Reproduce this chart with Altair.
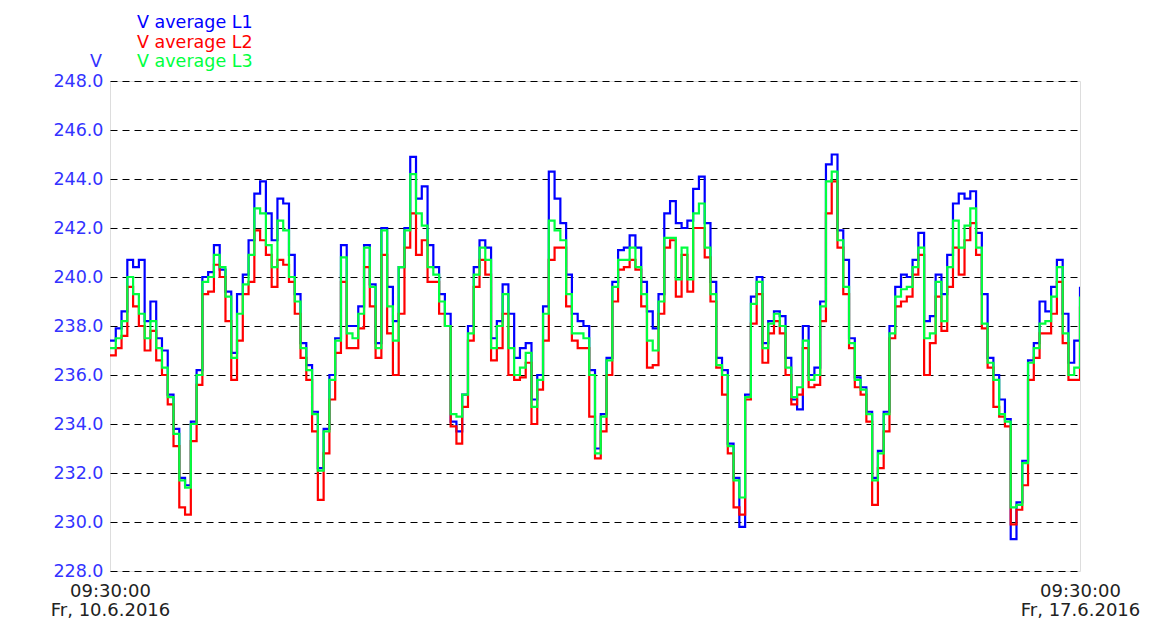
import altair as alt
import pandas as pd

# hours after Fr, 10.6.2016 09:30:00
hours = list(range(0, 169))

l1 = [237.4, 237.9, 238.6, 240.7, 240.4, 240.7, 238.2, 239.0, 237.5, 237.0,
      235.2, 233.8, 231.8, 231.5, 234.1, 236.2, 240.0, 240.2, 241.3, 240.3,
      239.4, 236.9, 239.3, 240.1, 241.5, 243.4, 243.9, 242.6, 241.5, 243.2,
      243.0, 240.9, 239.3, 237.3, 236.4, 234.5, 232.2, 233.8, 236.0, 237.5,
      241.3, 238.0, 238.0, 238.8, 241.3, 239.7, 237.3, 242.0, 239.6, 238.2,
      240.4, 242.0, 244.9, 243.2, 243.7, 241.3, 240.4, 239.3, 238.5, 234.1,
      233.7, 235.2, 238.0, 240.4, 241.5, 241.2, 237.5, 238.2, 239.7, 238.5,
      236.7, 237.1, 237.3, 235.0, 236.0, 238.8, 244.3, 243.2, 242.2, 240.1,
      238.5, 238.2, 238.0, 236.2, 233.0, 234.4, 236.7, 239.8, 241.1, 241.2,
      241.7, 241.2, 239.8, 238.6, 237.9, 239.3, 242.6, 243.1, 242.2, 242.0,
      242.3, 243.6, 244.1, 242.2, 239.8, 236.7, 236.2, 233.2, 231.8, 229.8,
      235.2, 239.2, 240.0, 237.3, 238.2, 238.6, 238.4, 236.7, 235.0, 234.6,
      238.0, 236.0, 236.3, 239.0, 244.6, 245.0, 241.9, 240.7, 237.5, 235.9,
      235.5, 234.5, 231.8, 232.9, 234.5, 238.0, 239.6, 240.1, 240.0, 240.7,
      241.8, 238.2, 238.4, 240.1, 239.3, 240.9, 243.0, 243.4, 243.2, 243.5,
      241.8, 239.3, 236.7, 236.0, 235.0, 234.2, 229.3, 230.8, 232.5, 236.6,
      237.3, 239.0, 238.6, 239.6, 240.7, 238.5, 236.5, 237.4, 239.6]

l2 = [236.8, 237.1, 237.6, 239.6, 238.8, 238.0, 237.0, 237.8, 236.6, 236.0,
      234.8, 233.1, 230.6, 230.3, 233.3, 235.6, 239.3, 239.4, 240.5, 240.0,
      238.2, 235.8, 237.4, 239.3, 239.8, 241.9, 241.5, 240.9, 239.6, 240.7,
      240.5, 239.8, 238.5, 236.7, 235.8, 233.7, 230.9, 232.8, 235.0, 236.9,
      239.8, 237.1, 237.1, 237.9, 240.4, 238.8, 236.7, 240.9, 237.7, 236.0,
      238.5, 241.2, 242.6, 240.9, 241.5, 239.8, 239.8, 238.5, 238.0, 233.9,
      233.2, 234.7, 237.4, 239.6, 240.7, 240.1, 236.6, 237.1, 238.5, 236.0,
      235.8, 235.9, 236.5, 234.0, 235.4, 237.4, 240.7, 241.2, 241.2, 238.8,
      237.4, 237.1, 237.1, 234.3, 232.6, 233.7, 236.0, 239.0, 240.3, 240.4,
      240.7, 240.3, 238.8, 236.3, 236.4, 238.5, 241.2, 241.5, 239.2, 240.9,
      239.4, 242.0, 242.0, 240.8, 239.0, 236.3, 235.2, 232.8, 230.6, 230.3,
      235.0, 238.1, 239.3, 236.5, 237.7, 238.2, 237.7, 236.0, 234.8, 235.2,
      237.1, 235.5, 235.6, 238.2, 242.6, 243.9, 241.2, 239.3, 237.1, 235.5,
      235.2, 234.1, 230.7, 232.2, 233.7, 237.5, 238.8, 239.0, 239.2, 240.1,
      240.9, 236.0, 237.3, 239.2, 237.8, 239.6, 241.2, 240.1, 241.5, 242.2,
      240.9, 237.9, 236.3, 234.7, 234.3, 233.9, 229.9, 230.5, 231.5, 235.8,
      236.7, 237.7, 237.7, 238.5, 239.8, 237.3, 235.8, 235.8, 238.8]

l3 = [237.1, 237.5, 238.2, 240.0, 239.3, 238.5, 237.5, 238.2, 237.1, 236.3,
      235.1, 233.6, 231.7, 231.4, 234.0, 236.0, 239.8, 240.0, 240.9, 240.4,
      239.2, 236.7, 238.5, 239.7, 240.9, 242.8, 242.6, 241.3, 240.4, 242.3,
      241.9, 240.0, 239.0, 237.1, 236.2, 234.4, 232.1, 233.7, 235.8, 237.4,
      240.8, 237.7, 237.5, 238.5, 241.2, 239.6, 237.1, 241.9, 238.8, 237.4,
      240.4, 241.9, 244.2, 242.6, 242.1, 240.4, 240.1, 239.0, 238.0, 234.4,
      234.3, 235.2, 237.7, 240.1, 241.2, 240.7, 237.1, 238.0, 239.3, 237.1,
      236.0, 236.3, 236.9, 234.7, 235.8, 238.5, 242.3, 241.9, 241.5, 239.3,
      237.7, 237.7, 237.5, 236.0, 232.8, 234.3, 236.6, 239.6, 240.7, 240.7,
      241.2, 240.4, 239.3, 237.4, 237.0, 239.0, 241.6, 241.6, 239.9, 241.2,
      239.9, 242.6, 243.0, 241.2, 239.3, 236.4, 236.0, 233.1, 231.7, 231.0,
      235.1, 238.9, 239.8, 237.1, 238.1, 238.5, 238.0, 236.3, 235.1, 235.5,
      237.4, 235.8, 236.0, 238.8, 243.9, 244.3, 241.5, 239.6, 237.3, 235.8,
      235.4, 234.4, 231.7, 232.8, 234.4, 237.7, 239.2, 239.5, 239.6, 240.4,
      241.2, 237.5, 237.7, 239.8, 238.2, 240.4, 242.3, 241.2, 242.1, 242.8,
      241.2, 238.1, 236.5, 235.8, 234.4, 234.1, 230.6, 230.7, 232.4, 236.5,
      237.1, 238.1, 238.2, 239.2, 240.4, 237.7, 236.0, 236.3, 239.2]

series_names = ["V average L1", "V average L2", "V average L3"]
series_colors = ["#0000ff", "#ff0000", "#00ff40"]
y_ticks = [228, 230, 232, 234, 236, 238, 240, 242, 244, 246, 248]
x_ticks = [0, 168]
x_tick_time = ["09:30:00", "09:30:00"]
x_tick_date = ["Fr, 10.6.2016", "Fr, 17.6.2016"]

frames = []
for name, vals in zip(series_names, [l1, l2, l3]):
    frames.append(pd.DataFrame({"h": hours, "v": vals, "series": name}))
df = pd.concat(frames, ignore_index=True)

label_expr = (
    f"datum.value == {x_ticks[0]} ? ['{x_tick_time[0]}', '{x_tick_date[0]}'] : "
    f"['{x_tick_time[1]}', '{x_tick_date[1]}']"
)

x_enc = alt.X("h:Q", scale=alt.Scale(domain=[0, 168], nice=False, zero=False),
              axis=alt.Axis(values=x_ticks, labelExpr=label_expr, title=None,
                            grid=False, ticks=False, domain=False,
                            labelColor="#222222", labelFont="DejaVu Sans",
                            labelFontSize=18, labelPadding=11, labelFlush=False,
                            labelLineHeight=19))
y_enc = alt.Y("v:Q", scale=alt.Scale(domain=[228, 248], nice=False, zero=False),
              axis=alt.Axis(values=y_ticks, format=".1f", title=None,
                            grid=True, gridColor="#000000", gridDash=[7, 5],
                            gridWidth=1, gridOpacity=1, ticks=False, domain=False,
                            labelColor="#3333ff", labelFont="DejaVu Sans",
                            labelFontSize=17.5, labelPadding=7))

lines = []
for name, col in zip(series_names, series_colors):
    lines.append(
        alt.Chart(df[df["series"] == name]).mark_line(
            interpolate="step-after", strokeWidth=2.2, color=col, clip=True
        ).encode(x=x_enc, y=y_enc)
    )

legend_layers = []
offsets = [-58, -38, -19.5]
for name, col, off in zip(series_names, series_colors, offsets):
    legend_layers.append(
        alt.Chart(pd.DataFrame({"t": [name]})).mark_text(
            align="left", baseline="middle", font="DejaVu Sans", fontSize=17.5, color=col
        ).encode(text="t:N", x=alt.value(27), y=alt.value(off))
    )
unit = alt.Chart(pd.DataFrame({"t": ["V"]})).mark_text(
    align="center", baseline="middle", font="DejaVu Sans", fontSize=17.5, color="#3333ff"
).encode(text="t:N", x=alt.value(-14), y=alt.value(-19.5))

chart = alt.layer(*lines, *legend_layers, unit).properties(
    width=970, height=490,
    padding={"left": 102, "top": 73, "right": 70, "bottom": 52},
    autosize="none",
).configure_view(
    stroke="#333333", strokeWidth=2
).configure(background="white")

chart.save("out.html", embed_options={"renderer": "svg", "actions": False})
